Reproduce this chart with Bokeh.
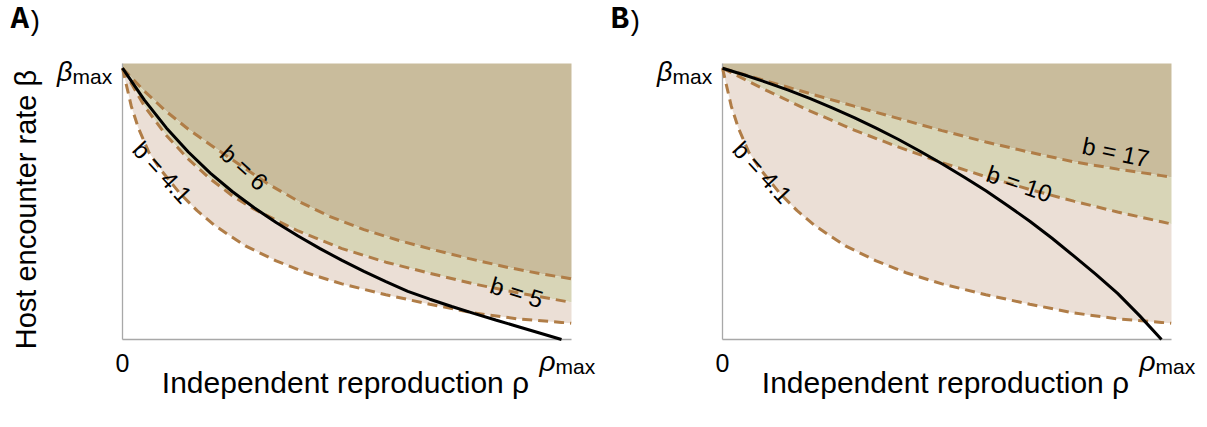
from bokeh.plotting import figure
from bokeh.layouts import row
from bokeh.models import Range1d, Label
from bokeh.embed import file_html
from bokeh.resources import INLINE

# ---------------- data (rho and beta scaled to rho_max = beta_max = 1) ----
# contour b = 4.1 (same in both panels)
b41_x = [0, 0.02, 0.036, 0.06, 0.09, 0.13, 0.17, 0.21, 0.28, 0.35, 0.42, 0.5, 0.6, 0.7, 0.8, 0.9, 1.0, 1.022]
b41_y = [1.0, 0.86, 0.78, 0.69, 0.62, 0.54, 0.475, 0.42, 0.345, 0.29, 0.245, 0.205, 0.165, 0.13, 0.098, 0.076, 0.063, 0.06]

# panel A
a_b5_x = [0, 0.05, 0.1, 0.15, 0.2, 0.25, 0.3, 0.4, 0.5, 0.6, 0.7, 0.8, 0.9, 1.022]
a_b5_y = [1.0, 0.86, 0.752, 0.665, 0.592, 0.53, 0.48, 0.4, 0.335, 0.285, 0.244, 0.205, 0.172, 0.137]
a_b6_x = [0, 0.05, 0.1, 0.15, 0.2, 0.277, 0.33, 0.4, 0.47, 0.55, 0.63, 0.71, 0.79, 0.88, 0.95, 1.022]
a_b6_y = [1.0, 0.915, 0.84, 0.775, 0.718, 0.633, 0.575, 0.51, 0.455, 0.405, 0.365, 0.33, 0.298, 0.265, 0.243, 0.224]
a_black_x = [0, 0.05, 0.1, 0.15, 0.2, 0.25, 0.3, 0.35, 0.4, 0.45, 0.5, 0.55, 0.6, 0.65, 0.7,
             0.75, 0.8, 0.85, 0.9, 0.95, 1.0]
a_black_y = [1.0, 0.8825, 0.78, 0.691, 0.6135, 0.5455, 0.4855, 0.4315, 0.3815, 0.335, 0.2915,
             0.251, 0.213, 0.1775, 0.1485, 0.1215, 0.0965, 0.072, 0.048, 0.024, 0.0]

# panel B
b_b10_x = [0, 0.1, 0.2, 0.3, 0.4, 0.5, 0.6, 0.7, 0.8, 0.9, 1.0, 1.022]
b_b10_y = [1.0, 0.918, 0.842, 0.772, 0.71, 0.652, 0.6, 0.553, 0.51, 0.47, 0.434, 0.426]
b_b17_x = [0, 0.1, 0.2, 0.3, 0.4, 0.5, 0.6, 0.7, 0.8, 0.9, 1.0, 1.022]
b_b17_y = [1.0, 0.953, 0.906, 0.86, 0.815, 0.77, 0.728, 0.69, 0.655, 0.628, 0.604, 0.598]
b_black_x = [0, 0.05, 0.1, 0.15, 0.2, 0.25, 0.3, 0.35, 0.4, 0.45, 0.5, 0.55, 0.6, 0.65, 0.7,
             0.75, 0.8, 0.85, 0.9, 0.95, 1.0]
b_black_y = [1.0, 0.975, 0.948, 0.919, 0.888, 0.854, 0.818, 0.779, 0.738, 0.694, 0.648, 0.599,
             0.548, 0.493, 0.436, 0.374, 0.308, 0.241, 0.17, 0.088, 0.0]

x_tick_labels = ["0", "\u03c1", "max"]
y_tick_labels = ["\u03b2", "max"]
x_title = "Independent reproduction \u03c1"
y_title = "Host encounter rate \u03b2"

# ---------------- styling ----------------
TAN, GREEN, PINK = "#c9bc9c", "#d8d5b7", "#ebdfd6"
DASH = "#b07d47"
AXIS = "#a8a8a8"
SANS = "Liberation Sans"
H = 420                          # figure height
PXX, PXY = 439.0, 271.3          # pixels per unit
Y0_PX = 339                      # pixel row of beta = 0
XMAX = 449 / PXX                 # right edge of the shaded area
YMAX = 276 / PXY                 # top edge of the shaded area
BL = 0.38                        # baseline correction (fraction of font size)


def make_panel(fig_left, width, left_img, letter, top, mid, low, black, clabels, with_ytitle):
    L = left_img - fig_left
    p = figure(width=width, height=H,
               x_range=Range1d(-L / PXX, (width - L) / PXX),
               y_range=Range1d(-(H - Y0_PX) / PXY, Y0_PX / PXY),
               x_axis_location=None, y_axis_location=None, min_border=0,
               output_backend="svg", toolbar_location=None)
    p.grid.visible = False
    p.outline_line_color = None
    p.background_fill_color = "white"

    def lab(X, Y, text, size, align="left", angle=0, style="normal", font=SANS):
        if angle == 90:
            X = X - BL * size
        else:
            Y = Y - BL * size
        p.add_layout(Label(x=(X - left_img) / PXX, y=(Y0_PX - Y) / PXY, text=text,
                           text_font_size=f"{size}px", text_align=align,
                           text_baseline="alphabetic", angle=angle, angle_units="deg",
                           text_font_style=style, text_font=font, text_color="black"))

    (tx, ty), (mx, my), (lx, ly) = top, mid, low
    ext = lambda xs, ys: (list(xs) + [XMAX], list(ys) + [ys[-1]])
    tx2, ty2 = ext(tx, ty)
    mx2, my2 = ext(mx, my)
    lx2, ly2 = ext(lx, ly)
    p.patch(tx2 + [XMAX, 0], ty2 + [YMAX, YMAX], fill_color=TAN, line_color=None)
    p.patch(tx2 + mx2[::-1], ty2 + my2[::-1], fill_color=GREEN, line_color=None)
    p.patch(mx2 + lx2[::-1], my2 + ly2[::-1], fill_color=PINK, line_color=None)

    # axes lines (rho axis and beta axis)
    p.line([0, XMAX], [0, 0], line_color=AXIS, line_width=1.3)
    p.line([0, 0], [0, YMAX], line_color=AXIS, line_width=1.3)

    for xs, ys in (top, mid, low):
        p.line(xs, ys, line_color=DASH, line_width=3, line_dash="10 6")
    p.line(black[0], black[1], line_color="black", line_width=3)

    for (x, y, t, ang) in clabels:
        p.add_layout(Label(x=x, y=y, text=t, text_font_size="24px", text_align="center",
                           text_baseline="middle", angle=ang, angle_units="deg",
                           text_font=SANS, text_color="black"))

    # panel letter
    lab(left_img - 112, 31, letter, 31, font="Liberation Mono", style="bold")
    lab(left_img - 96, 33, ")", 27, font="Liberation Mono")
    # tick labels
    lab(left_img - 50, 82, y_tick_labels[0], 27, align="right", style="italic")
    lab(left_img - 50, 84, y_tick_labels[1], 21)
    lab(left_img, 372, x_tick_labels[0], 25, align="center")
    lab(left_img + 433, 372, x_tick_labels[1], 28, align="right", style="italic")
    lab(left_img + 433, 374, x_tick_labels[2], 21)
    # axis titles
    lab(left_img + 223, 393, x_title, 30, align="center")
    if with_ytitle:
        lab(37, 209, y_title, 29, align="center", angle=90)
    return p


pA = make_panel(0, 608, 122, "A", (a_b6_x, a_b6_y), (a_b5_x, a_b5_y), (b41_x, b41_y),
                (a_black_x, a_black_y),
                [(0.091, 0.616, "b = 4.1", -47), (0.277, 0.633, "b = 6", -42),
                 (0.898, 0.174, "b = 5", -17)], True)
pB = make_panel(608, 591, 722, "B", (b_b17_x, b_b17_y), (b_b10_x, b_b10_y), (b41_x, b41_y),
                (b_black_x, b_black_y),
                [(0.091, 0.616, "b = 4.1", -47), (0.676, 0.574, "b = 10", -19),
                 (0.896, 0.690, "b = 17", -12)], False)

layout = row(pA, pB)
open("out.html", "w").write(file_html(layout, INLINE))
